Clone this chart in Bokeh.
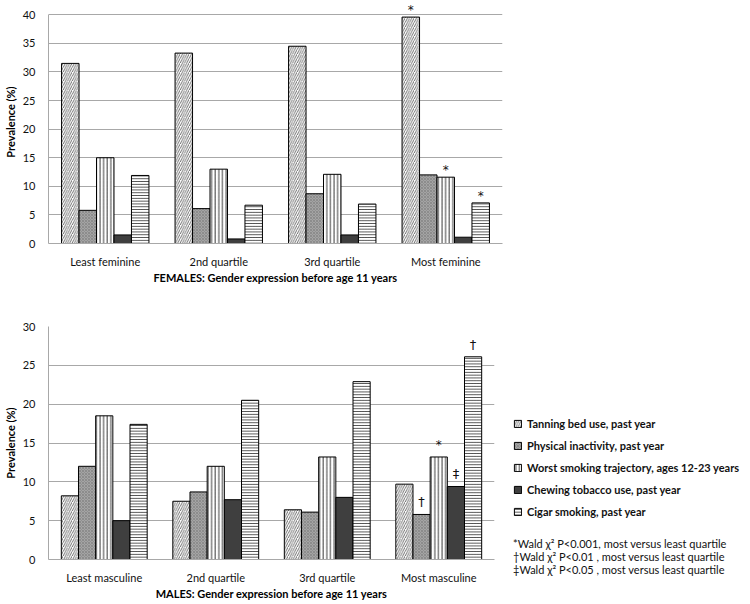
from bokeh.plotting import figure
from bokeh.models import (ColumnDataSource, FactorRange, Range1d, FixedTicker, Label,
                          Legend, LegendItem)
from bokeh.transform import dodge
from bokeh.layouts import column
from bokeh.embed import file_html
from bokeh.resources import INLINE

# ---------------- data ----------------
series_names = [
    "Tanning bed use, past year",
    "Physical inactivity, past year",
    "Worst smoking trajectory, ages 12-23 years",
    "Chewing tobacco use, past year",
    "Cigar smoking, past year",
]

female_cats = ["Least feminine", "2nd quartile", "3rd quartile", "Most feminine"]
female_tanning = [31.5, 33.3, 34.5, 39.6]
female_inactivity = [5.8, 6.1, 8.7, 12.0]
female_smoking = [15.0, 13.0, 12.1, 11.6]
female_chewing = [1.5, 0.8, 1.5, 1.1]
female_cigar = [11.9, 6.7, 6.9, 7.1]
female_ticks = [0, 5, 10, 15, 20, 25, 30, 35, 40]
female_xlabel = "FEMALES: Gender expression before age 11 years"

male_cats = ["Least masculine", "2nd quartile", "3rd quartile", "Most masculine"]
male_tanning = [8.2, 7.5, 6.4, 9.7]
male_inactivity = [12.0, 8.7, 6.1, 5.8]
male_smoking = [18.5, 12.0, 13.2, 13.2]
male_chewing = [5.0, 7.7, 8.0, 9.4]
male_cigar = [17.4, 20.5, 22.9, 26.1]
male_ticks = [0, 5, 10, 15, 20, 25, 30]
male_xlabel = "MALES: Gender expression before age 11 years"

# significance markers
female_mark_cats = ["Most feminine", "Most feminine", "Most feminine"]
female_mark_series = [0, 2, 4]
female_mark_syms = ["*", "*", "*"]
male_mark_cats = ["Most masculine", "Most masculine", "Most masculine", "Most masculine"]
male_mark_series = [1, 2, 3, 4]
male_mark_syms = ["\u2020", "*", "\u2021", "\u2020"]

footnotes = [
    "*Wald \u03c7\u00b2 P<0.001, most versus least quartile",
    "\u2020Wald \u03c7\u00b2 P<0.01 , most versus least quartile",
    "\u2021Wald \u03c7\u00b2 P<0.05 , most versus least quartile",
]

# ---------------- styles ----------------
FONT = "Lato"
MARK_FONT = "DejaVu Sans"
GRID = "#a8a8a8"
TXT = "#111111"
BAR_W = 0.154

STYLES = [
    dict(fill_color="white", hatch_pattern="right_diagonal_line", hatch_color="#333333",
         hatch_scale=4.5, hatch_weight=0.7),
    dict(fill_color="#a4a4a4", hatch_pattern="diagonal_cross", hatch_color="#7c7c7c",
         hatch_scale=3, hatch_weight=0.6),
    dict(fill_color="white", hatch_pattern="vertical_line", hatch_color="#222222",
         hatch_scale=3.6, hatch_weight=0.9),
    dict(fill_color="#3f3f3f"),
    dict(fill_color="white", hatch_pattern="horizontal_line", hatch_color="#222222",
         hatch_scale=2.8, hatch_weight=0.8),
]


def bar_chart(cats, series_vals, ticks, y_end, xlabel, m_cats, m_series, m_syms,
              frame_w, frame_h, top, right, mark_offset):
    data = {"cat": cats}
    for i, v in enumerate(series_vals):
        data["s%d" % i] = v
    src = ColumnDataSource(data)
    p = figure(x_range=FactorRange(*cats), y_range=Range1d(ticks[0], y_end),
               frame_width=frame_w, frame_height=frame_h, output_backend="svg",
               toolbar_location=None, min_border_top=top, min_border_right=right,
               min_border_left=0, min_border_bottom=0)
    n = len(series_vals)
    rends = []
    for i in range(n):
        r = p.vbar(x=dodge("cat", (i - (n - 1) / 2) * BAR_W, range=p.x_range),
                   top="s%d" % i, width=BAR_W, source=src,
                   line_color="black", line_width=1, **STYLES[i])
        rends.append(r)

    for ax in (p.xaxis[0], p.yaxis[0]):
        ax.major_tick_line_color = None
        ax.minor_tick_line_color = None
        ax.axis_line_color = GRID
        ax.major_label_text_font = FONT
        ax.major_label_text_font_size = "11px"
        ax.major_label_text_color = TXT
        ax.axis_label_text_font = FONT
        ax.axis_label_text_font_style = "bold"
        ax.axis_label_text_font_size = "11px"
        ax.axis_label_text_color = "black"
    p.xaxis.axis_label = xlabel
    p.yaxis.axis_label = "Prevalence (%)"
    p.xaxis.major_label_standoff = 5
    p.xaxis.axis_label_standoff = 0
    p.yaxis.major_label_standoff = 7
    p.yaxis.axis_label_standoff = 3
    p.yaxis.ticker = FixedTicker(ticks=ticks)
    p.yaxis.bounds = (ticks[0], ticks[-1])
    p.xgrid.grid_line_color = None
    p.ygrid.grid_line_color = GRID
    p.outline_line_color = None

    for c, s, sym in zip(m_cats, m_series, m_syms):
        ci = cats.index(c)
        xpos = ci + 0.5 + (s - (n - 1) / 2) * BAR_W
        size = "12px" if sym == "*" else "13px"
        p.add_layout(Label(x=xpos, y=series_vals[s][ci], y_offset=mark_offset, text=sym,
                           text_align="center", text_baseline="bottom",
                           text_font=MARK_FONT, text_font_size=size, text_color=TXT))
    return p, rends


# top chart: a little headroom above 40 so the marker over the tallest bar is visible
top, _ = bar_chart(female_cats,
                   [female_tanning, female_inactivity, female_smoking, female_chewing, female_cigar],
                   female_ticks, 42.5, female_xlabel,
                   female_mark_cats, female_mark_series, female_mark_syms,
                   frame_w=454, frame_h=243, top=0, right=10, mark_offset=0)

FH = 233
bottom, rends = bar_chart(male_cats,
                          [male_tanning, male_inactivity, male_smoking, male_chewing, male_cigar],
                          male_ticks, male_ticks[-1], male_xlabel,
                          male_mark_cats, male_mark_series, male_mark_syms,
                          frame_w=446, frame_h=FH, top=40, right=244, mark_offset=5)

legend = Legend(
    items=[LegendItem(label=nm, renderers=[r]) for nm, r in zip(series_names, rends)],
    location=(19, -17), orientation="vertical",
    glyph_width=9, glyph_height=9, label_standoff=5, label_height=19, spacing=3,
    label_text_font=FONT, label_text_font_style="bold", label_text_font_size="11px",
    label_text_color=TXT, padding=0, margin=0, border_line_color=None,
    background_fill_alpha=0,
    title="\n".join(footnotes), title_location="below", title_standoff=16,
    title_text_font=FONT, title_text_font_style="normal", title_text_font_size="11px",
    title_text_line_height=1.55, title_text_color=TXT,
)
bottom.add_layout(legend, "right")

layout = column(top, bottom)
open("out.html", "w").write(file_html(layout, INLINE))
